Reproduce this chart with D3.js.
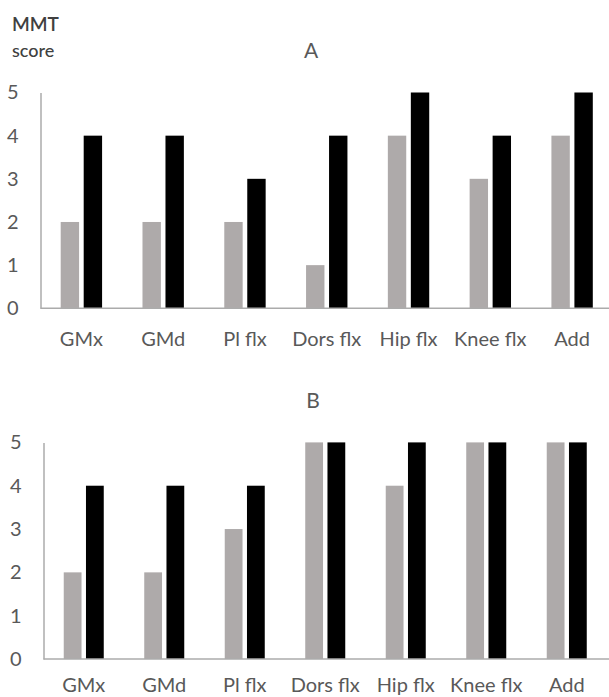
<!DOCTYPE html>
<html>
<head>
<meta charset="utf-8">
<script src="https://cdn.jsdelivr.net/npm/d3@7"></script>
<style>
  body { margin: 0; background: #fff; }
  text { font-family: Lato, "Open Sans", sans-serif; }
</style>
</head>
<body>
<div id="chart"></div>
<script>
// Data
const categories = ["GMx", "GMd", "Pl flx", "Dors flx", "Hip flx", "Knee flx", "Add"];
const seriesKeys = ["pre", "post"];
const panelA_pre  = [2, 2, 2, 1, 4, 3, 4];
const panelA_post = [4, 4, 3, 4, 5, 4, 5];
const panelB_pre  = [2, 2, 3, 5, 4, 5, 5];
const panelB_post = [4, 4, 4, 5, 5, 5, 5];
const yTicks = [0, 1, 2, 3, 4, 5];

const W = 609, H = 697;
const textColor = "#595959";
const axisColor = "#ABABAB";
const color = d3.scaleOrdinal().domain(seriesKeys).range(["#AEAAAA", "#000000"]);

const svg = d3.select("#chart")
    .append("svg")
    .attr("width", W)
    .attr("height", H);

// y-axis title (shared, top left)
svg.append("text")
    .attr("x", 12).attr("y", 31)
    .attr("fill", "#404040")
    .attr("font-size", 19)
    .attr("font-weight", 600)
    .text("MMT");
svg.append("text")
    .attr("x", 12).attr("y", 57)
    .attr("fill", "#404040")
    .attr("font-size", 18)
    .attr("font-weight", 500)
    .text("score");

function drawPanel(opts) {
    const { title, titleX, titleY, pre, post, xRange, yBase, yTop, labelY } = opts;
    const rows = categories.map((c, i) => ({ cat: c, pre: pre[i], post: post[i] }));

    const x0 = d3.scaleBand()
        .domain(categories)
        .range(xRange)
        .paddingInner(opts.pad)
        .paddingOuter(opts.pad / 2);

    const x1 = d3.scaleBand()
        .domain(seriesKeys)
        .range([0, x0.bandwidth()])
        .paddingInner(0.2);

    const y = d3.scaleLinear()
        .domain([0, 5])
        .range([yBase, yTop]);

    const g = svg.append("g");

    // Title
    g.append("text")
        .attr("x", titleX).attr("y", titleY)
        .attr("text-anchor", "middle")
        .attr("fill", textColor)
        .attr("font-size", 21)
        .text(title);

    // Bars
    g.selectAll("g.cat")
        .data(rows)
        .join("g")
        .attr("class", "cat")
        .attr("transform", d => `translate(${x0(d.cat)},0)`)
        .selectAll("rect")
        .data(d => seriesKeys.map(k => ({ key: k, value: d[k] })))
        .join("rect")
        .attr("x", d => x1(d.key))
        .attr("y", d => y(d.value))
        .attr("width", x1.bandwidth())
        .attr("height", d => y(0) - y(d.value))
        .attr("fill", d => color(d.key));

    // Y axis
    const yAxis = g.append("g")
        .attr("transform", `translate(${xRange[0]},0)`)
        .call(d3.axisLeft(y).tickValues(yTicks).tickSize(0).tickPadding(22).tickFormat(d3.format("d")));
    yAxis.select(".domain").attr("stroke", axisColor).attr("stroke-width", 1.5);
    yAxis.selectAll("text")
        .attr("fill", textColor)
        .attr("font-size", 20)
        .attr("font-family", "Lato, 'Open Sans', sans-serif");

    // X axis
    const xAxis = g.append("g")
        .attr("transform", `translate(0,${yBase})`)
        .call(d3.axisBottom(x0).tickSize(0).tickPadding(0));
    xAxis.select(".domain")
        .attr("d", `M${xRange[0]},0H${W + 5}`)
        .attr("stroke", axisColor).attr("stroke-width", 1.5);
    xAxis.selectAll("text")
        .attr("y", labelY - yBase)
        .attr("dy", 0)
        .attr("fill", textColor)
        .attr("font-size", 20)
        .attr("font-family", "Lato, 'Open Sans', sans-serif");
}

drawPanel({
    title: "A", titleX: 311, titleY: 58,
    pre: panelA_pre, post: panelA_post,
    xRange: [40.5, 613], pad: 0.494,
    yBase: 308.3, yTop: 92.5, labelY: 346
});

drawPanel({
    title: "B", titleX: 313, titleY: 408,
    pre: panelB_pre, post: panelB_post,
    xRange: [43.5, 607], pad: 0.503,
    yBase: 659, yTop: 442.4, labelY: 692
});
</script>
</body>
</html>
